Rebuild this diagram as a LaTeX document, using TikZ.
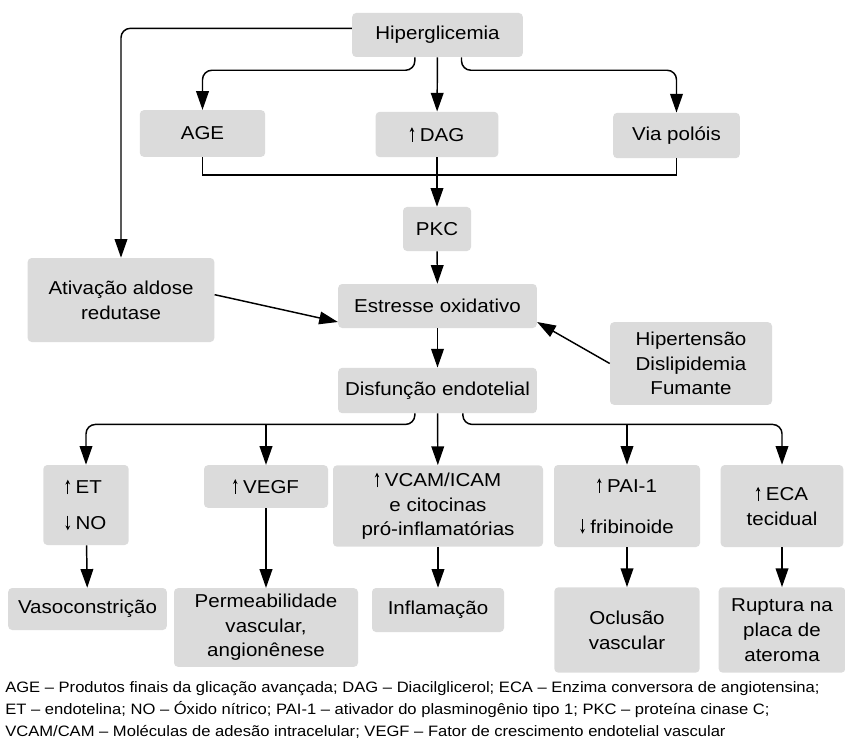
\documentclass[tikz,border=0pt]{standalone}
\usepackage{fontspec}
\setmainfont{Liberation Sans}[FakeStretch=1.1]
\usepackage{tikz}
\usetikzlibrary{arrows.meta}

% small thin arrows used inside the boxes
\newcommand{\sobe}{\tikz[baseline=0pt,x=1pt,y=1pt]\draw[line width=0.6pt,-{Stealth[length=3.6pt,width=3.4pt]}] (0,-0.5) -- (0,10.5);\hspace{0.3em}}
\newcommand{\desce}{\tikz[baseline=0pt,x=1pt,y=1pt]\draw[line width=0.6pt,-{Stealth[length=3.6pt,width=3.4pt]}] (0,10.5) -- (0,-0.5);\hspace{0.3em}}

\begin{document}
\begin{tikzpicture}[x=0.75pt,y=-0.75pt,
    box/.style={fill=black!14, rounded corners=3pt, align=center, inner sep=2pt,
                font=\fontsize{14}{18.5}\selectfont},
    arrow/.style={-{Triangle[length=14pt,width=9.5pt]}, line width=1.1pt},
    link/.style={line width=1.1pt},
]
  \useasboundingbox (0,0) rectangle (845,745);

  % top part
  \node[box, minimum width=128pt, minimum height=33pt] (hip) at (437.5,35) {Hiperglicemia};
  \node[box, minimum width=94pt, minimum height=35pt] (age) at (202.5,133.5) {AGE};
  \node[box, minimum width=92pt, minimum height=34pt] (dag) at (437,134.5) {\sobe DAG};
  \node[box, minimum width=95pt, minimum height=34pt] (via) at (676.5,135.5) {Via polóis};
  \node[box, minimum width=51pt, minimum height=33pt] (pkc) at (437,229) {PKC};
  \node[box, minimum width=140pt, minimum height=63pt] (ativ) at (121,300) {Ativação aldose\\redutase};
  \node[box, minimum width=149pt, minimum height=33pt] (est) at (437.5,306) {Estresse oxidativo};
  \node[box, minimum width=121.5pt, minimum height=62pt] (hipert) at (691,363.5) {Hipertensão\\Dislipidemia\\Fumante};
  \node[box, minimum width=149pt, minimum height=34pt] (disf) at (437.5,390.5) {Disfunção endotelial};

  % middle row
  \node[box, minimum width=64pt, minimum height=60pt, align=left] (etno) at (86,505) {\sobe ET\\[8.5pt]\desce NO};
  \node[box, minimum width=93pt, minimum height=32pt] (vegf) at (266,486.5) {\sobe VEGF};
  \node[box, minimum width=157.5pt, minimum height=61pt] (vcam) at (438,506) {\sobe VCAM/ICAM\\e citocinas\\pró-inflamatórias};
  \node[box, minimum width=109.5pt, minimum height=61.5pt] (pai) at (627,506) {\sobe PAI-1\\[12pt]\desce fribinoide};
  \node[box, minimum width=92pt, minimum height=61.5pt] (eca) at (782,506) {\sobe ECA\\tecidual};

  % bottom row
  \node[box, minimum width=119pt, minimum height=31.5pt] (vaso) at (87.5,609) {Vasoconstrição};
  \node[box, minimum width=138pt, minimum height=59pt] (perm) at (266,627.5) {Permeabilidade\\vascular,\\angionênese};
  \node[box, minimum width=99pt, minimum height=33pt] (infl) at (438,610) {Inflamação};
  \node[box, minimum width=109pt, minimum height=64pt] (ocl) at (627,630) {Oclusão\\vascular};
  \node[box, minimum width=95pt, minimum height=64pt] (rupt) at (782,630) {Ruptura na\\placa de\\ateroma};

  \node[anchor=north west, align=left, inner sep=0pt, font=\fontsize{11.3}{16.5}\selectfont] (legenda) at (5,681)
    {AGE -- Produtos finais da glicação avançada; DAG -- Diacilglicerol; ECA -- Enzima conversora de angiotensina;\\
     ET -- endotelina; NO -- Óxido nítrico; PAI-1 -- ativador do plasminogênio tipo 1; PKC -- proteína cinase C;\\
     VCAM/CAM -- Moléculas de adesão intracelular; VEGF -- Fator de crescimento endotelial vascular};

  % connectors
  \draw[arrow, rounded corners=7pt] ([xshift=-17pt]hip.south) -- ++(0,13) -| (age.north);
  \draw[arrow, rounded corners=7pt] ([xshift=18pt]hip.south) -- ++(0,13) -| (via.north);
  \draw[arrow] (hip) -- (dag);
  \draw[arrow, rounded corners=7pt] ([yshift=5pt]hip.west) -| (ativ.north);
  \draw[link] (age.south) -- ++(0,18) -| (via.south);
  \draw[arrow] (dag) -- (pkc);
  \draw[arrow] (pkc) -- (est);
  \draw[arrow] ([yshift=4pt]ativ.east) -- ([yshift=-12pt]est.west);
  \draw[arrow] (hipert.west) -- ([yshift=-12pt]est.east);
  \draw[arrow] (est) -- (disf);

  \draw[arrow, rounded corners=7pt] ([xshift=-17pt]disf.south) -- ++(0,11) coordinate (bl) -| (etno.north);
  \draw[arrow, rounded corners=7pt] ([xshift=19pt]disf.south) -- ++(0,11) coordinate (br) -| (eca.north);
  \draw[arrow] (vegf.north |- bl) -- (vegf);
  \draw[arrow] (disf) -- (vcam);
  \draw[arrow] (pai.north |- br) -- (pai);

  \draw[arrow] (etno) -- (vaso);
  \draw[arrow] (vegf) -- (perm);
  \draw[arrow] (vcam) -- (infl);
  \draw[arrow] (pai) -- (ocl);
  \draw[arrow] (eca) -- (rupt);
\end{tikzpicture}
\end{document}
